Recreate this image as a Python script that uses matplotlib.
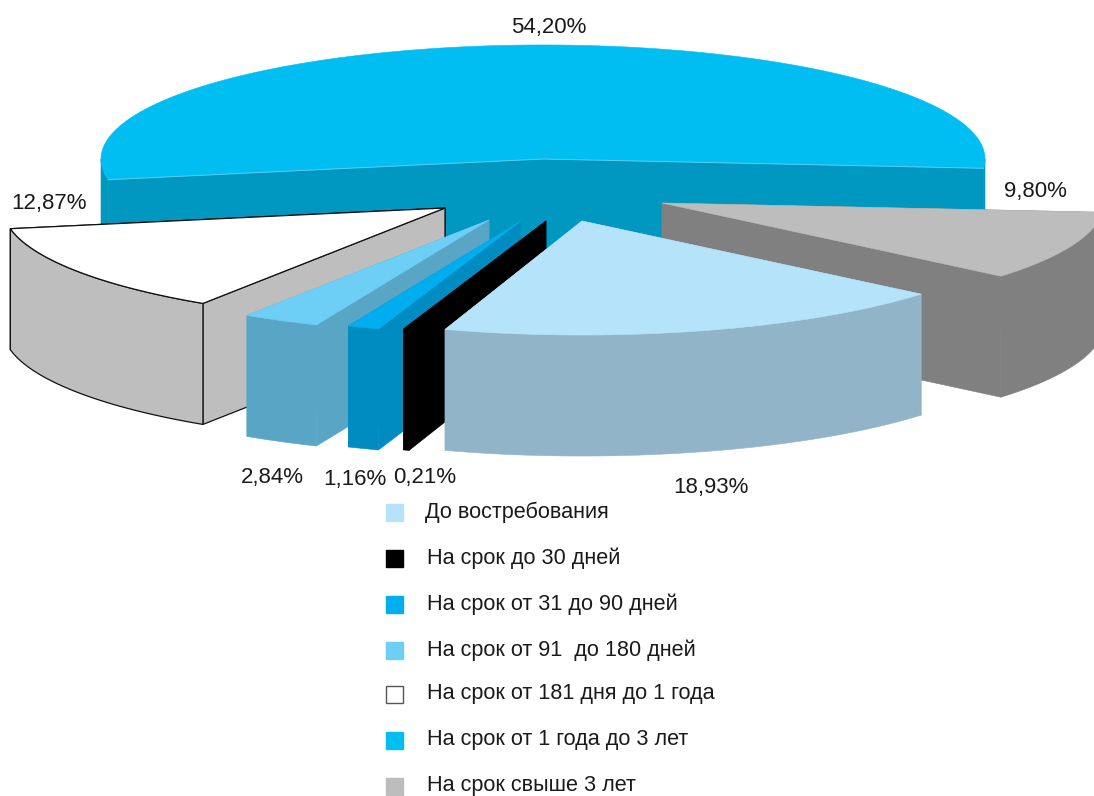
import numpy as np
import matplotlib
matplotlib.use("Agg")
import matplotlib.pyplot as plt
from matplotlib.patches import Polygon, Rectangle

# --- data ---
categories = ["До востребования", "На срок до 30 дней", "На срок от 31 до 90 дней",
              "На срок от 91  до 180 дней", "На срок от 181 дня до 1 года",
              "На срок от 1 года до 3 лет", "На срок свыше 3 лет"]
shares = [18.93, 0.21, 1.16, 2.84, 12.87, 54.20, 9.80]

# --- styles and layout (pixel space of the figure) ---
top_colors = ["#B5E4FA", "#000000", "#00AEEF", "#6DCFF6", "#FFFFFF", "#00BDF2", "#BDBDBD"]
wall_colors = ["#92B4C8", "#000000", "#008CC0", "#58A5C6", "#BEBEBE", "#0098C1", "#808080"]
swatch_edges = ["#B5E4FA", "#000000", "#00AEEF", "#6DCFF6", "#555555", "#00BDF2", "#BDBDBD"]
apex_x = [582, 546, 521, 489, 445, 543, 662]      # exploded slice apex
apex_y = [221, 221, 221, 220, 208, 159, 203]
draw_order = [5, 6, 4, 3, 2, 1, 0]
label_x = [711, 425, 355, 272, 49, 549, 1035]
label_y = [488, 477, 479, 478, 203, 27, 191]
legend_y = [512, 558, 604, 650, 694, 740, 786]
legend_text_x = [425, 427, 427, 427, 427, 427, 427]
RADIUS, SQUASH, DEPTH, START = 442.0, 0.258, 121.0, 39.9
FONT = ["Liberation Sans", "DejaVu Sans"]

W, H = 1094, 796
fig = plt.figure(figsize=(W / 100, H / 100), dpi=100)
ax = fig.add_axes([0, 0, 1, 1])
ax.set_xlim(0, W)
ax.set_ylim(H, 0)
ax.axis("off")


def rim(x0, y0, angles):
    t = np.radians(angles)
    return np.column_stack([x0 + RADIUS * np.cos(t), y0 + RADIUS * SQUASH * np.sin(t)])


def draw_slice(i, a, b):
    x0, y0 = apex_x[i], apex_y[i]
    wall, top = wall_colors[i], top_colors[i]
    outlined = top == "#FFFFFF"
    ec = "#111111" if outlined else wall
    lw = 0.9 if outlined else 0.4
    down = np.array([0, DEPTH])
    apex = np.array([[x0, y0]])
    angles = np.linspace(a, b, max(int((b - a) * 3), 3))
    outer = rim(x0, y0, angles)
    # cut faces, the farther one first
    for corner in sorted((outer[0], outer[-1]), key=lambda p: p[1]):
        quad = np.vstack([apex, [corner], [corner + down], apex + down])
        ax.add_patch(Polygon(quad, closed=True, fc=wall, ec=ec, lw=lw, joinstyle="round"))
    # outer curved wall, only where it faces the viewer
    for k in (0, 1):
        lo, hi = max(a, 360 * k), min(b, 360 * k + 180)
        if hi > lo:
            arc = rim(x0, y0, np.linspace(lo, hi, max(int((hi - lo) * 3), 3)))
            ax.add_patch(Polygon(np.vstack([arc, (arc + down)[::-1]]), closed=True,
                                 fc=wall, ec=ec, lw=lw))
    # top surface
    ax.add_patch(Polygon(np.vstack([apex, outer]), closed=True, fc=top,
                         ec="#111111" if outlined else top, lw=lw))
    if top == "#00BDF2":  # pale highlight along the cut edge of the large slice
        edge = np.vstack([[outer[0]], apex, [outer[-1]]])
        ax.plot(edge[:, 0], edge[:, 1], color="#5CCBEF", lw=0.7)


edges = START + np.concatenate([[0], np.cumsum(shares)]) * 3.6
for i in draw_order:
    draw_slice(i, edges[i], edges[i + 1])

for v, x, y in zip(shares, label_x, label_y):
    ax.text(x, y, f"{v:.2f}%".replace(".", ","), ha="center", va="center",
            fontsize=16, family=FONT, color="#1A1A1A")

for c, ec, y, tx, name in zip(top_colors, swatch_edges, legend_y, legend_text_x, categories):
    ax.add_patch(Rectangle((386, y - 8.5), 17, 17, fc=c, ec=ec, lw=1))
    ax.text(tx, y, name, ha="left", va="center", fontsize=15.6, family=FONT, color="#1A1A1A")

fig.savefig("out.png", dpi=100)
